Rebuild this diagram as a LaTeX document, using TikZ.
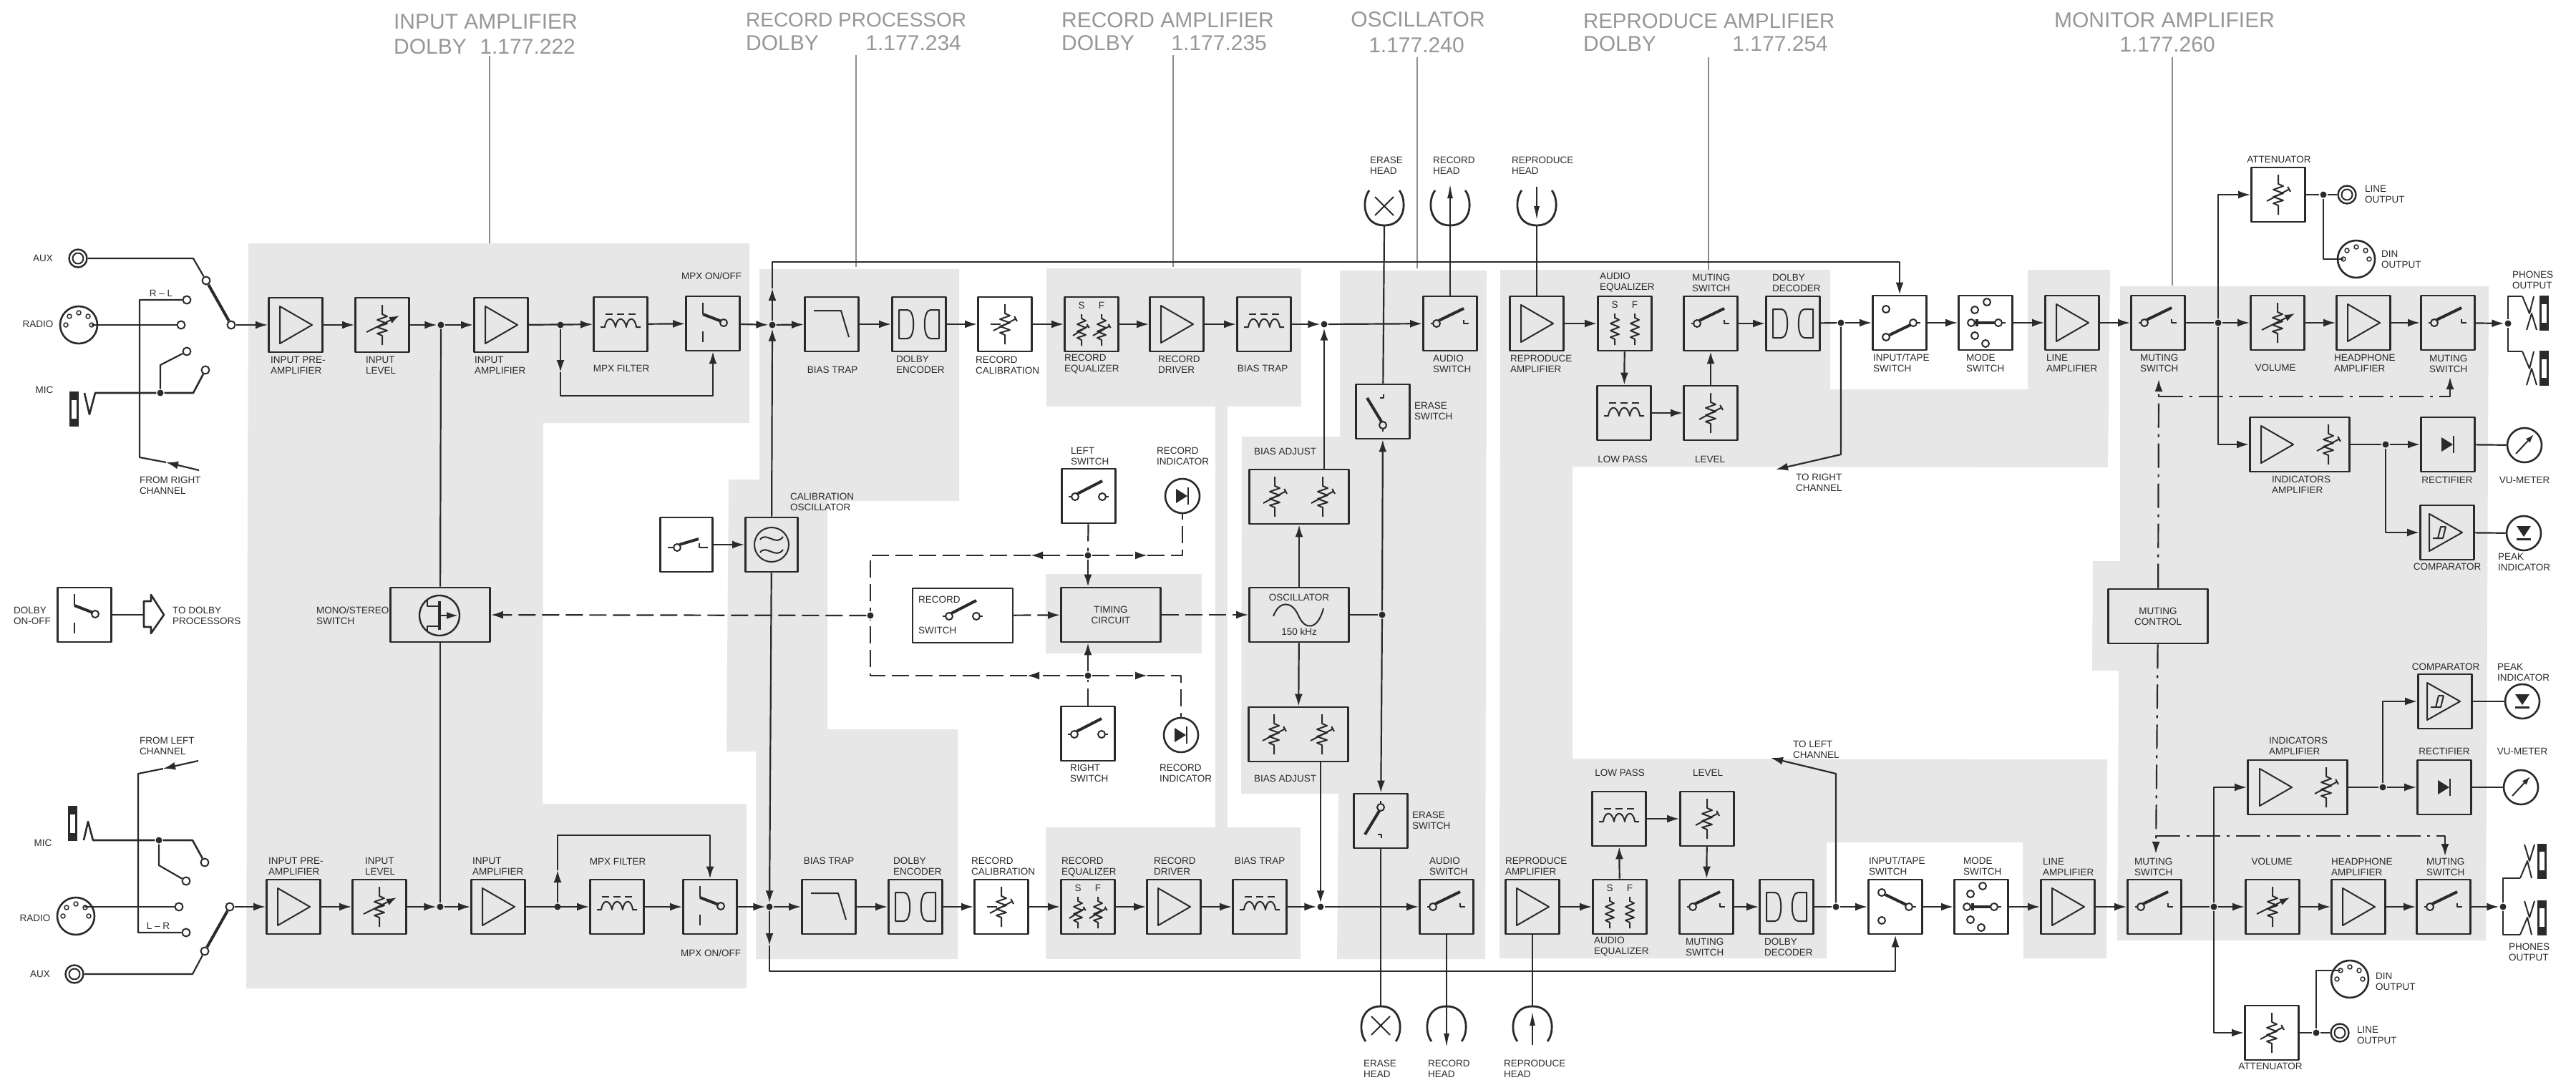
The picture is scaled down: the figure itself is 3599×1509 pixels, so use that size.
\documentclass[tikz,border=0pt]{standalone}
\usepackage{fontspec}
\setmainfont{Liberation Sans}
\usetikzlibrary{arrows.meta,positioning,calc}
\definecolor{ink}{HTML}{2A2A2A}
\definecolor{shade}{HTML}{E7E7E7}
\definecolor{leader}{HTML}{8C8C8C}
\newcommand{\lblfont}{\fontsize{13.5}{15}\selectfont}
\newcommand{\ttlfont}{\fontsize{30}{32}\selectfont}
\newcommand{\headarc}{\draw[line width=2.8pt] (-21,-22) .. controls (-32,-8) and (-30,27) .. (0,27) .. controls (30,27) and (32,-8) .. (21,-22);}

\begin{document}
\begin{tikzpicture}[
    x=1pt, y=-1pt, line width=2.2pt, draw=ink, line join=round,
    block/.style={rectangle, draw=ink, line width=2.8pt, minimum width=75pt, minimum height=76pt, inner sep=0pt},
    inblock/.style={font=\lblfont, align=center, inner sep=0pt, text=ink},
    dot/.style={circle, fill=ink, inner sep=0pt, minimum size=9pt},
    cont/.style={circle, draw=ink, fill=white, line width=2pt, inner sep=0pt, minimum size=11pt},
    round/.style={circle, draw=ink, line width=2.6pt, inner sep=0pt, minimum size=48pt},
    din/.style={circle, draw=ink, line width=2.6pt, inner sep=0pt, minimum size=52pt},
    phonojack/.style={circle, draw=ink, line width=2.4pt, inner sep=0pt, minimum size=25pt},
    lbl/.style={font=\lblfont, align=left, anchor=west, inner sep=0pt, text=ink},
    clbl/.style={font=\lblfont, align=center, inner sep=0pt, text=ink},
    ttl/.style={font=\ttlfont, inner sep=0pt, text=leader!90},
    tline/.style={draw=leader, line width=2pt},
    region/.style={fill=shade, draw=none},
    arrow/.style={-{Latex[length=17pt,width=11pt]}},
    dashwire/.style={dash pattern=on 24pt off 9pt},
    dotdash/.style={dash pattern=on 34pt off 9pt on 4pt off 9pt},
    sym/.style={line width=2pt},
    arm/.style={line width=4pt},
    ampsym/.pic={\draw[sym] (-22,-26) -- (23,0) -- (-22,26) -- cycle;},
    ressym/.pic={\draw[sym] (0,-28) -- (0,-15) -- (7,-12) -- (-7,-7) -- (7,-2) -- (-7,3) -- (7,8) -- (-7,12) -- (0,15) -- (0,28);},
    varres/.pic={\pic {ressym}; \draw[sym,-{Latex[length=14pt,width=10pt]}] (-22,10) -- (24,-13);},
    trimres/.pic={\pic {ressym}; \draw[sym,-{Bar[width=8pt]}] (-16,9) -- (16,-8);},
    calres/.pic={\pic {trimres}; \draw[sym] (-20,0) -- (-6,0);},
    eqres/.pic={\draw[sym] (0,-14) -- (0,-8) -- (6,-5) -- (-6,0) -- (6,5) -- (-6,10) -- (6,15) -- (-6,19) -- (0,22) -- (0,30);},
    eqsym/.pic={\pic at (-14,0) {eqres}; \pic at (14,0) {eqres};
        \node[clbl] (s) at (-14,-26) {S}; \node[clbl] (f) at (14,-26) {F};},
    eqvar/.pic={\pic {eqsym}; \draw[sym,-{Bar[width=6pt]}] (-26,16) -- (-4,2); \draw[sym,-{Bar[width=6pt]}] (2,16) -- (26,2);},
    filtsym/.pic={\draw[sym] (-28,4) -- (-22,4) .. controls (-20,-11) and (-10,-11) .. (-7,4) .. controls (-5,-11) and (5,-11) .. (8,4) .. controls (10,-11) and (20,-11) .. (22,4) -- (28,4);
        \draw[sym] (-21,-14) -- (-11,-14); \draw[sym] (-5,-14) -- (5,-14); \draw[sym] (11,-14) -- (21,-14);},
    swmpx/.pic={\draw[sym] (-14,-29) -- (-14,-13); \draw[arm] (-14,-13) -- (12,-3); \draw[sym] (15,-1) circle (5);
        \draw[sym] (-14,11) -- (-14,26);},
    swopen/.pic={\draw[sym] (-27,0) -- (-24,0); \draw[sym] (-19,0) circle (5); \draw[arm] (-16,-4) -- (19,-21);
        \draw[sym] (19,-5) -- (19,0) -- (26,0);},
    swtwo/.pic={\draw[sym] (-28,1) -- (-24,1); \draw[sym] (-19,1) circle (5); \draw[arm] (-16,-3) -- (19,-21);
        \draw[sym] (19,1) circle (5); \draw[sym] (24,1) -- (28,1);},
    eswsym/.pic={\draw[sym] (0,19) circle (5); \draw[sym] (0,24) -- (0,28); \draw[arm] (-2,14) -- (-22,-19);
        \draw[sym] (1,-24) -- (1,-19) -- (-4,-19);},
    itsym/.pic={\draw[sym] (-19,-19) circle (5); \draw[sym] (-19,20) circle (5); \draw[sym] (19,0) circle (5);
        \draw[sym] (24,0) -- (29,0); \draw[arm] (15,3) -- (-14,17);},
    modesym/.pic={\draw[sym] (2,-29) circle (5); \draw[sym] (-15,-18) circle (5); \draw[sym] (-20,0) circle (5);
        \draw[sym] (18,0) circle (5); \draw[sym] (-15,18) circle (5); \draw[sym] (0,29) circle (5);
        \draw[sym] (23,0) -- (28,0); \draw[arm] (-15,0) -- (13,0); \draw[arm] (-12,-5) -- (-12,5);},
    ddsym/.pic={\draw[sym] (-28,-20) -- (-16,-20) .. controls (-5,-20) and (-5,20) .. (-16,20) -- (-28,20) -- cycle;
        \draw[sym] (28,-20) -- (16,-20) .. controls (5,-20) and (5,20) .. (16,20) -- (28,20) -- cycle;},
    btrap/.pic={\draw[sym] (-25,-19) -- (13,-19) -- (24,18);},
    oscsym/.pic={\draw[sym] (-16,-7) .. controls (-8,-19) and (6,3) .. (16,-11);
        \draw[sym] (-16,11) .. controls (-8,-1) and (6,21) .. (16,7);},
    sinesym/.pic={\draw[sym] (-36,2) .. controls (-28,-20) and (-10,-20) .. (-1,1) .. controls (8,22) and (26,22) .. (34,-9);},
    dioder/.pic={\fill[ink] (-9,-10) -- (7,0) -- (-9,10) -- cycle; \draw[sym] (8,-12) -- (8,12);},
    dioded/.pic={\fill[ink] (-10,-10) -- (10,-10) -- (0,5) -- cycle; \draw[line width=3pt] (-10,8) -- (10,8);},
    metersym/.pic={\draw[sym,-{Latex[length=12pt,width=8pt]}] (-12,12) -- (13,-15);},
    compsym/.pic={\draw[sym] (-25,-26) -- (21,0) -- (-25,26) -- cycle;
        \draw[sym] (-20,8) -- (-13,8) -- (-9,-8) -- (-2,-8); \draw[sym] (-13,8) -- (-6,8) -- (-2,-8);},
    fetsym/.pic={\draw[sym] (-17,-23) -- (-17,-13) -- (0,-13); \draw[sym] (-17,23) -- (-17,15) -- (0,15);
        \draw[line width=3.6pt] (0,-20) -- (0,20); \draw[sym,-{Latex[length=16pt,width=10pt]}] (0,0) -- (26,0);},
    headx/.pic={\headarc \draw[sym] (-13,-13) -- (13,13); \draw[sym] (13,-13) -- (-13,13);},
    headup/.pic={\headarc \draw[sym,-{Latex[length=20pt,width=8pt]}] (0,27) -- (0,-31);},
    headdn/.pic={\headarc \draw[sym,-{Latex[length=20pt,width=8pt]}] (0,-27) -- (0,20);},
    pinring/.pic={\draw[sym] (0,0) circle (7.5);},
    pinsym/.pic={\draw[line width=1.5pt] (-18,0) circle (3); \draw[line width=1.5pt] (-13,-12) circle (3);
        \draw[line width=1.5pt] (0,-17) circle (3); \draw[line width=1.5pt] (13,-12) circle (3); \draw[line width=1.5pt] (18,0) circle (3);},
    micbar/.pic={\fill[ink] (0,-1) rectangle (13,48); \fill[white] (3,11) rectangle (10,37);},
    phonesym/.pic={\fill[ink] (0,-1) rectangle (13,48); \fill[white] (3,11) rectangle (10,37);
        \draw[sym] (-24,0) -- (-14,24) -- (-8,0); \draw[sym] (-18,47) -- (-11,24) -- (-4,47);}
]
    % shaded groups
    \fill[region] (347,340) -- (1047,340) -- (1047,591) -- (759,591) -- (758,1123) -- (1043,1123) -- (1043,1381) -- (344,1381) -- cycle;
    \fill[region] (1061,376) -- (1340,376) -- (1340,700) -- (1156,700) -- (1156,1019) -- (1338,1019) -- (1338,1340) -- (1056,1340) -- (1056,1050) -- (1015,1050) -- (1018,670) -- (1061,670) -- cycle;
    \fill[region] (1462,375) rectangle (1818,568);
    \fill[region] (1698,568) rectangle (1715,1157);
    \fill[region] (1461,1156) rectangle (1817,1340);
    \fill[region] (1461,802) rectangle (1679,913);
    \fill[region] (1872,378) -- (2077,378) -- (2075,1340) -- (1868,1340) -- (1870,1109) -- (1734,1109) -- (1735,610) -- (1872,610) -- cycle;
    \fill[region] (2096,377) -- (2557,377) -- (2557,544) -- (2833,544) -- (2833,377) -- (2948,377) -- (2945,653) -- (2197,652) -- (2197,1060) -- (2944,1061) -- (2943,1339) -- (2827,1339) -- (2826,1177) -- (2552,1177) -- (2552,1339) -- (2095,1339) -- cycle;
    \fill[region] (2962,400) -- (3477,400) -- (3473,1314) -- (2958,1314) -- (2960,937) -- (2923,937) -- (2924,784) -- (2962,784) -- cycle;

    % titles
    \useasboundingbox (0,0) rectangle (3599,1509);
    \node[ttl, anchor=west] (tia) at (549,30) {INPUT AMPLIFIER};
    \node[ttl, anchor=west] (tib) at (549,65) {DOLBY};
    \node[ttl, anchor=east] (tic) at (805,65) {1.177.222};
    \node[ttl, anchor=west, font=\fontsize{28}{32}\selectfont] (tra) at (1041,28) {RECORD PROCESSOR};
    \node[ttl, anchor=west] (trb) at (1041,60) {DOLBY};
    \node[ttl, anchor=east] (trc) at (1344,60) {1.177.234};
    \node[ttl, anchor=west] (taa) at (1482,28) {RECORD AMPLIFIER};
    \node[ttl, anchor=west] (tab) at (1482,60) {DOLBY};
    \node[ttl, anchor=east] (tac) at (1771,60) {1.177.235};
    \node[ttl] (toa) at (1981,27) {OSCILLATOR};
    \node[ttl] (tob) at (1979,63) {1.177.240};
    \node[ttl, anchor=west, font=\fontsize{29.4}{32}\selectfont] (tpa) at (2211,29) {REPRODUCE AMPLIFIER};
    \node[ttl, anchor=west] (tpb) at (2211,61) {DOLBY};
    \node[ttl, anchor=east] (tpc) at (2555,61) {1.177.254};
    \node[ttl] (tma) at (3024,28) {MONITOR AMPLIFIER};
    \node[ttl] (tmb) at (3028,62) {1.177.260};
    \draw[tline] (684,78) -- (684,340);
    \draw[tline] (1196,77) -- (1196,373);
    \draw[tline] (1639,77) -- (1639,373);
    \draw[tline] (1980,80) -- (1980,375);
    \draw[tline] (2387,80) -- (2387,377);
    \draw[tline] (3035,80) -- (3035,399);

    % upper channel
    \node[block] (ipreT) at (413,454) {};
    \node[block] (ilevT) at (534,454) {};
    \node[dot] (d1T) at (616,454) {};
    \node[block] (iampT) at (700,454) {};
    \node[dot] (d2T) at (783,454) {};
    \node[block] (mfilT) at (867,453) {};
    \node[block] (mswT) at (996,452) {};
    \node[dot] (jT) at (1079,454) {};
    \node[block] (btrT) at (1162,453) {};
    \node[block] (denT) at (1284,453) {};
    \node[block] (rcalT) at (1404,453) {};
    \node[block] (reqT) at (1525,453) {};
    \node[block] (rdrvT) at (1644,453) {};
    \node[block] (btsT) at (1766,453) {};
    \node[dot] (d5T) at (1850,453) {};
    \node[block] (aswT) at (2026,452) {};
    \node[block] (ramT) at (2147,452) {};
    \node[block] (aeqT) at (2270,452) {};
    \node[block] (musT) at (2390,452) {};
    \node[block] (ddeT) at (2505,452) {};
    \node[dot] (d7T) at (2572,451) {};
    \node[block] (itsT) at (2654,451) {};
    \node[block] (modT) at (2774,451) {};
    \node[block] (lamT) at (2895,451) {};
    \node[block] (mmaT) at (3015,451) {};
    \node[dot] (d9T) at (3099,451) {};
    \node[block] (volT) at (3182,451) {};
    \node[block] (hamT) at (3302,451) {};
    \node[block] (mmbT) at (3420,451) {};
    \node[dot] (dpT) at (3504,452) {};
    \node[block] (lopT) at (2269,577) {};
    \node[block] (lvlT) at (2390,577) {};
    \node[block] (attT) at (3183,272) {};
    \node[dot] (dlT) at (3246,272) {};
    \node[phonojack] (lineT) at (3279,272) {};
    \node[din] (dinT) at (3292,362) {};
    \node[block, minimum width=139pt] (indT) at (3213,621) {};
    \node[dot] (diT) at (3333,621) {};
    \node[block] (recT) at (3420,621) {};
    \node[round] (vuT) at (3527,622) {};
    \node[block] (cmpT) at (3419,744) {};
    \node[round] (pkT) at (3526,745) {};
    \node[block] (eswT) at (1932,575) {};

    % lower channel
    \node[block] (ipreB) at (410,1267) {};
    \node[block] (ilevB) at (530,1267) {};
    \node[dot] (d1B) at (615,1267) {};
    \node[block] (iampB) at (696,1267) {};
    \node[dot] (d2B) at (779,1267) {};
    \node[block] (mfilB) at (862,1267) {};
    \node[block] (mswB) at (992,1267) {};
    \node[dot] (jB) at (1075,1267) {};
    \node[block] (btrB) at (1158,1267) {};
    \node[block] (denB) at (1279,1267) {};
    \node[block] (rcalB) at (1399,1267) {};
    \node[block] (reqB) at (1520,1267) {};
    \node[block] (rdrvB) at (1640,1267) {};
    \node[block] (btsB) at (1760,1267) {};
    \node[dot] (d5B) at (1845,1267) {};
    \node[block] (aswB) at (2021,1267) {};
    \node[block] (ramB) at (2141,1267) {};
    \node[block] (aeqB) at (2263,1267) {};
    \node[block] (musB) at (2384,1267) {};
    \node[block] (ddeB) at (2496,1267) {};
    \node[dot] (d7B) at (2565,1267) {};
    \node[block] (itsB) at (2648,1267) {};
    \node[block] (modB) at (2768,1267) {};
    \node[block] (lamB) at (2889,1267) {};
    \node[block] (mmaB) at (3010,1267) {};
    \node[dot] (d9B) at (3093,1267) {};
    \node[block] (volB) at (3175,1267) {};
    \node[block] (hamB) at (3295,1267) {};
    \node[block] (mmbB) at (3414,1267) {};
    \node[dot] (dpB) at (3497,1267) {};
    \node[block] (lopB) at (2262,1144) {};
    \node[block] (lvlB) at (2385,1144) {};
    \node[block] (attB) at (3174,1443) {};
    \node[dot] (dlB) at (3236,1443) {};
    \node[phonojack] (lineB) at (3269,1443) {};
    \node[din] (dinB) at (3283,1368) {};
    \node[block, minimum width=139pt] (indB) at (3210,1100) {};
    \node[dot] (diB) at (3329,1100) {};
    \node[block] (recB) at (3415,1100) {};
    \node[round] (vuB) at (3522,1100) {};
    \node[block] (cmpB) at (3416,980) {};
    \node[round] (pkB) at (3524,980) {};
    \node[block] (eswB) at (1929,1147) {};

    % middle section
    \node[block, minimum width=139pt] (mono) at (615,859) {};
    \node[circle, draw=ink, line width=2.4pt, minimum size=56pt, inner sep=0pt] (fet) at (614,860) {};
    \node[block] (dolby) at (118,859) {};
    \node[block, minimum width=73pt] (calsw) at (959,761) {};
    \node[block, minimum width=73pt] (cal) at (1078,761) {};
    \node[circle, draw=ink, line width=2pt, minimum size=48pt, inner sep=0pt] (calc) at (1078,761) {};
    \node[block] (lswT) at (1521,693) {};
    \node[round] (riT) at (1652,693) {};
    \node[dot] (dmT) at (1520,776) {};
    \node[dot] (dsw) at (1216,860) {};
    \node[block, minimum width=140pt] (recsw) at (1345,860) {};
    \node[block, minimum width=139pt] (timing) at (1552,859) {};
    \node[inblock] (ltim) at (timing) {TIMING\\CIRCUIT};
    \node[block, minimum width=139pt] (oscil) at (1815,859) {};
    \node[dot] (dosc) at (1931,859) {};
    \node[block, minimum width=139pt] (badT) at (1815,694) {};
    \node[block, minimum width=139pt] (badB) at (1814,1026) {};
    \node[dot] (dmB) at (1520,944) {};
    \node[block] (lswB) at (1520,1025) {};
    \node[round] (riB) at (1650,1027) {};
    \node[block, minimum width=139pt] (mctl) at (3015,861) {};
    \node[inblock] (lmct) at (mctl) {MUTING\\CONTROL};

    % symbols in the blocks
    \pic at (ipreT) {ampsym};
    \pic at (ilevT) {varres};
    \pic at (iampT) {ampsym};
    \pic at (mfilT) {filtsym};
    \pic at (mswT) {swmpx};
    \pic at (btrT) {btrap};
    \pic at (denT) {ddsym};
    \pic at (rcalT) {calres};
    \pic at (reqT) {eqvar};
    \pic at (rdrvT) {ampsym};
    \pic at (btsT) {filtsym};
    \pic at (aswT) {swopen};
    \pic at (ramT) {ampsym};
    \pic at (aeqT) {eqsym};
    \pic at (musT) {swopen};
    \pic at (ddeT) {ddsym};
    \pic at (itsT) {itsym};
    \pic at (modT) {modesym};
    \pic at (lamT) {ampsym};
    \pic at (mmaT) {swopen};
    \pic at (volT) {varres};
    \pic at (hamT) {ampsym};
    \pic at (mmbT) {swopen};
    \pic at (lopT) {filtsym};
    \pic at (lvlT) {trimres};
    \pic at (attT) {trimres};
    \pic at (lineT) {pinring};
    \pic at (dinT) {pinsym};
    \pic at (3181,621) {ampsym};
    \pic at (3253,621) {trimres};
    \pic at (recT) {dioder};
    \pic at (vuT) {metersym};
    \pic at (cmpT) {compsym};
    \pic at (pkT) {dioded};
    \pic at (eswT) {eswsym};
    \pic at (ipreB) {ampsym};
    \pic at (ilevB) {varres};
    \pic at (iampB) {ampsym};
    \pic at (mfilB) {filtsym};
    \pic at (mswB) {swmpx};
    \pic at (btrB) {btrap};
    \pic at (denB) {ddsym};
    \pic at (rcalB) {calres};
    \pic at (reqB) {eqvar};
    \pic at (rdrvB) {ampsym};
    \pic at (btsB) {filtsym};
    \pic at (aswB) {swopen};
    \pic at (ramB) {ampsym};
    \pic at (aeqB) {eqsym};
    \pic at (musB) {swopen};
    \pic at (ddeB) {ddsym};
    \pic[yscale=-1] at (itsB) {itsym};
    \pic at (modB) {modesym};
    \pic at (lamB) {ampsym};
    \pic at (mmaB) {swopen};
    \pic at (volB) {varres};
    \pic at (hamB) {ampsym};
    \pic at (mmbB) {swopen};
    \pic at (lopB) {filtsym};
    \pic at (lvlB) {trimres};
    \pic at (attB) {trimres};
    \pic at (lineB) {pinring};
    \pic at (dinB) {pinsym};
    \pic at (3179,1100) {ampsym};
    \pic at (3250,1100) {trimres};
    \pic at (recB) {dioder};
    \pic at (vuB) {metersym};
    \pic at (cmpB) {compsym};
    \pic at (pkB) {dioded};
    \pic[yscale=-1] at (eswB) {eswsym};
    \pic at (fet) {fetsym};
    \pic at (dolby) {swmpx};
    \pic at (calc) {oscsym};
    \pic at (lswT) {swtwo};
    \pic at (riT) {dioder};
    \pic at (recsw) {swtwo};
    \pic at (oscil) {sinesym};
    \pic at (-34+1815,694) {trimres};
    \pic at (33+1815,694) {trimres};
    \pic at (-34+1814,1026) {trimres};
    \pic at (33+1814,1026) {trimres};
    \pic at (lswB) {swtwo};
    \pic at (riB) {dioder};
    \draw[sym] (933,765) -- (941,765);
    \draw[sym] (946,765) circle (5);
    \draw[arm] (949,761) -- (976,753);
    \draw[sym] (977,759) -- (977,765) -- (989,765);

    % input selector, upper
    \node[phonojack] (auxT) at (109,361) {};
    \pic at (auxT) {pinring};
    \node[din] (radT) at (110,454) {};
    \pic at (radT) {pinsym};
    \pic at (97,548) {micbar};
    \node[cont] (caT) at (288,392) {};
    \node[cont] (crlT) at (261,419) {};
    \node[cont] (crT) at (253,454) {};
    \node[cont] (cm1T) at (261,491) {};
    \node[cont] (cm2T) at (287,517) {};
    \node[cont] (pvT) at (323,454) {};
    \node[dot] (dcT) at (224,549) {};
    \coordinate (akT) at (270,361);
    \coordinate (rpT) at (128,454);
    \coordinate (mtT) at (125,579);
    \coordinate (maT) at (133,549);
    \coordinate (mlT) at (118,549);
    \coordinate (mkT) at (270,549);
    \coordinate (mjT) at (224,510);
    \coordinate (frsT) at (278,657);
    \coordinate (frmT) at (232,646);
    \coordinate (frcT) at (195,639);
    \draw (auxT) -- (akT) -- (caT);
    \draw[arm] (caT) -- (pvT);
    \draw (rpT) -- (crT);
    \draw[line width=2.6pt] (mlT) -- (mtT) -- (maT) -- (dcT) -- (mkT) -- (cm2T);
    \draw (dcT) -- (mjT) -- (cm1T);
    \draw[arrow] (frsT) -- (frmT);
    \draw (frmT) -- (frcT) |- (crlT);
    \draw[arrow] (pvT) -- (ipreT);

    % input selector, lower
    \node[phonojack] (auxB) at (104,1361) {};
    \pic at (auxB) {pinring};
    \node[din] (radB) at (106,1280) {};
    \pic at (radB) {pinsym};
    \pic at (95,1127) {micbar};
    \node[cont] (caB) at (286,1329) {};
    \node[cont] (crlB) at (260,1303) {};
    \node[cont] (crB) at (250,1267) {};
    \node[cont] (cm1B) at (260,1231) {};
    \node[cont] (cm2B) at (286,1205) {};
    \node[cont] (pvB) at (321,1267) {};
    \node[dot] (dcB) at (222,1174) {};
    \coordinate (akB) at (269,1361);
    \coordinate (rpB) at (118,1267);
    \coordinate (mtB) at (123,1148);
    \coordinate (maB) at (130,1174);
    \coordinate (mlB) at (117,1174);
    \coordinate (mkB) at (269,1174);
    \coordinate (mjB) at (222,1209);
    \coordinate (frsB) at (277,1063);
    \coordinate (frmB) at (228,1074);
    \coordinate (frcB) at (193,1081);
    \draw (auxB) -- (akB) -- (caB);
    \draw[arm] (caB) -- (pvB);
    \draw (rpB) -- (crB);
    \draw[line width=2.6pt] (mlB) -- (mtB) -- (maB) -- (dcB) -- (mkB) -- (cm2B);
    \draw (dcB) -- (mjB) -- (cm1B);
    \draw[arrow] (frsB) -- (frmB);
    \draw (frmB) -- (frcB) |- (crlB);
    \draw[arrow] (pvB) -- (ipreB);

    % upper signal path
    \draw[arrow] (ipreT) -- (ilevT);
    \draw[arrow] (ilevT) -- (d1T);
    \draw[arrow] (d1T) -- (iampT);
    \draw[arrow] (iampT) -- (mfilT);
    \draw[arrow] (mfilT) -- (mswT);
    \draw[arrow] (mswT) -- (jT);
    \draw[arrow] (jT) -- (btrT);
    \draw[arrow] (btrT) -- (denT);
    \draw[arrow] (denT) -- (rcalT);
    \draw[arrow] (rcalT) -- (reqT);
    \draw[arrow] (reqT) -- (rdrvT);
    \draw[arrow] (rdrvT) -- (btsT);
    \draw[arrow] (btsT) -- (d5T);
    \draw[arrow] (d5T) -- (aswT);
    \draw[arrow] (ramT) -- (aeqT);
    \draw[arrow] (aeqT) -- (lopT);
    \draw[arrow] (lopT) -- (lvlT);
    \draw[arrow] (lvlT) -- (musT);
    \draw[arrow] (musT) -- (ddeT);
    \draw (ddeT) -- (d7T);
    \draw[arrow] (d7T) -- (itsT);
    \draw[arrow] (itsT) -- (modT);
    \draw[arrow] (modT) -- (lamT);
    \draw[arrow] (lamT) -- (mmaT);
    \draw (mmaT) -- (d9T);
    \draw[arrow] (d9T) -- (volT);
    \draw[arrow] (volT) -- (hamT);
    \draw[arrow] (hamT) -- (mmbT);
    \draw[arrow] (mmbT) -- (dpT);

    % lower signal path
    \draw[arrow] (ipreB) -- (ilevB);
    \draw[arrow] (ilevB) -- (d1B);
    \draw[arrow] (d1B) -- (iampB);
    \draw[arrow] (iampB) -- (mfilB);
    \draw[arrow] (mfilB) -- (mswB);
    \draw[arrow] (mswB) -- (jB);
    \draw[arrow] (jB) -- (btrB);
    \draw[arrow] (btrB) -- (denB);
    \draw[arrow] (denB) -- (rcalB);
    \draw[arrow] (rcalB) -- (reqB);
    \draw[arrow] (reqB) -- (rdrvB);
    \draw[arrow] (rdrvB) -- (btsB);
    \draw[arrow] (btsB) -- (d5B);
    \draw[arrow] (d5B) -- (aswB);
    \draw[arrow] (ramB) -- (aeqB);
    \draw[arrow] (aeqB) -- (lopB);
    \draw[arrow] (lopB) -- (lvlB);
    \draw[arrow] (lvlB) -- (musB);
    \draw[arrow] (musB) -- (ddeB);
    \draw (ddeB) -- (d7B);
    \draw[arrow] (d7B) -- (itsB);
    \draw[arrow] (itsB) -- (modB);
    \draw[arrow] (modB) -- (lamB);
    \draw[arrow] (lamB) -- (mmaB);
    \draw (mmaB) -- (d9B);
    \draw[arrow] (d9B) -- (volB);
    \draw[arrow] (volB) -- (hamB);
    \draw[arrow] (hamB) -- (mmbB);
    \draw[arrow] (mmbB) -- (dpB);

    % mpx bypass
    \coordinate (bxT) at (783,553);
    \coordinate (btT) at (783,520);
    \draw[arrow] (d2T) -- (btT);
    \draw[arrow] (btT) -- (bxT) -| (mswT);
    \coordinate (bxB) at (779,1167);
    \coordinate (btB) at (779,1216);
    \draw[arrow] (d2B) -- (btB);
    \draw[arrow] (btB) -- (bxB) -| (mswB);

    % mono and rails
    \draw (d1T) -- (mono);
    \draw (mono) -- (d1B);
    \coordinate (rtT) at (1079,403);
    \coordinate (reT) at (2654,366);
    \coordinate (rtB) at (1075,1321);
    \coordinate (reB) at (2648,1357);
    \draw[arrow] (jT) -- (rtT);
    \draw[arrow] (rtT) |- (reT) -- (itsT);
    \draw[arrow] (jB) -- (rtB);
    \draw[arrow] (rtB) |- (reB) -- (itsB);
    \draw[arrow] (cal) -- (jT);
    \draw[arrow] (cal) -- (jB);
    \draw[arrow] (calsw) -- (cal);

    % heads
    \pic at (1934,288) {headx};
    \pic at (2026,288) {headup};
    \pic at (2147,288) {headdn};
    \coordinate (ehT) at (1934,315);
    \coordinate (rhT) at (2026,315);
    \coordinate (phT) at (2147,315);
    \draw (ehT) -- (eswT);
    \draw (rhT) -- (aswT);
    \draw (phT) -- (ramT);
    \pic[yscale=-1] at (1929,1433) {headx};
    \pic[yscale=-1] at (2021,1433) {headup};
    \pic[yscale=-1] at (2141,1433) {headdn};
    \coordinate (ehB) at (1929,1406);
    \coordinate (rhB) at (2021,1406);
    \coordinate (phB) at (2141,1406);
    \draw (eswB) -- (ehB);
    \draw (aswB) -- (rhB);
    \draw (ramB) -- (phB);

    % oscillator and bias
    \node[clbl] (osct) at (1815,835) {OSCILLATOR};
    \node[clbl] (oscf) at (1815,883) {150 kHz};
    \draw[arrow] (oscil) -- (badT);
    \draw[arrow] (oscil) -- (badB);
    \draw (oscil) -- (dosc);
    \draw[arrow] (dosc) -- (eswT);
    \draw[arrow] (dosc) -- (eswB);
    \draw[arrow] (d5T |- badT.north) -- (d5T);
    \draw[arrow] (d5B |- badB.south) -- (d5B);

    % record control, dashed
    \coordinate (laT) at (1440,776);
    \coordinate (raT) at (1603,776);
    \coordinate (laB) at (1435,944);
    \coordinate (raB) at (1603,944);
    \draw[dashwire] (lswT) -- (dmT);
    \draw[dashwire,arrow] (dmT) -- (dmT |- timing.north);
    \draw[dashwire,arrow] (dmT) -- (laT);
    \draw[dashwire] (laT) -| (dsw);
    \draw[dashwire,arrow] (dmT) -- (raT);
    \draw[dashwire] (raT) -| (riT);
    \draw[dashwire] (lswB) -- (dmB);
    \draw[dashwire,arrow] (dmB) -- (dmB |- timing.south);
    \draw[dashwire,arrow] (dmB) -- (laB);
    \draw[dashwire] (laB) -| (dsw);
    \draw[dashwire,arrow] (dmB) -- (raB);
    \draw[dashwire] (raB) -| (riB);
    \draw[dashwire,arrow] (dsw) -- (mono);
    \draw[dashwire,arrow] (recsw) -- (timing);
    \draw[dashwire,arrow] (timing) -- (oscil);

    % muting control, dot-dashed
    \coordinate (mtipT) at (3016,530);
    \coordinate (mjnT) at (3016,554);
    \coordinate (mendT) at (3423,527);
    \coordinate (mtipB) at (3012,1193);
    \coordinate (mjnB) at (3012,1168);
    \coordinate (mendB) at (3416,1196);
    \draw[dotdash,arrow] (mctl) -- (mtipT);
    \draw[dotdash,arrow] (mjnT) -| (mendT);
    \draw[dotdash,arrow] (mctl) -- (mtipB);
    \draw[dotdash,arrow] (mjnB) -| (mendB);

    % to other channel
    \coordinate (trcA) at (2572,635);
    \coordinate (trcB) at (2481,656);
    \coordinate (tlcA) at (2565,1081);
    \coordinate (tlcB) at (2474,1059);
    \draw[arrow] (d7T) -- (trcA) -- (trcB);
    \draw[arrow] (d7B) -- (tlcA) -- (tlcB);

    % monitor outputs
    \draw[arrow] (d9T) |- (attT);
    \draw[arrow] (d9T) |- (indT);
    \draw (attT) -- (dlT);
    \draw (dlT) -- (lineT);
    \coordinate (pinT) at (3274,362);
    \draw (dlT) |- (pinT);
    \draw (indT) -- (diT);
    \draw[arrow] (diT) -- (recT);
    \draw[arrow] (diT) |- (cmpT);
    \draw (recT) -- (vuT);
    \draw (cmpT) -- (pkT);
    \draw[arrow] (d9B) |- (attB);
    \draw[arrow] (d9B) |- (indB);
    \draw (attB) -- (dlB);
    \draw (dlB) -- (lineB);
    \coordinate (pinB) at (3270,1356);
    \draw (dlB) |- (pinB);
    \draw (indB) -- (diB);
    \draw[arrow] (diB) -- (recB);
    \draw[arrow] (diB) |- (cmpB);
    \draw (recB) -- (vuB);
    \draw (cmpB) -- (pkB);

    % phones
    \pic at (3548,414) {phonesym};
    \pic at (3548,491) {phonesym};
    \coordinate (ptT) at (3524,414);
    \coordinate (pbT) at (3524,491);
    \draw (dpT) |- (ptT);
    \draw (dpT) |- (pbT);
    \pic[yscale=-1] at (3545,1227) {phonesym};
    \pic[yscale=-1] at (3545,1306) {phonesym};
    \coordinate (ptB) at (3521,1227);
    \coordinate (pbB) at (3521,1306);
    \draw (dpB) |- (ptB);
    \draw (dpB) |- (pbB);

    % dolby switch
    \coordinate (hol) at (201,859);
    \draw (dolby) -- (hol);
    \draw[line width=2.6pt, fill=white] (201,840) -- (211,840) -- (211,831) -- (229,859) -- (211,885) -- (211,876) -- (201,876) -- cycle;

    % labels, left side
    \node[clbl] (lauxT) at (60,361) {AUX};
    \node[clbl] (lradT) at (53,453) {RADIO};
    \node[clbl] (lmicT) at (62,545) {MIC};
    \node[clbl] (lrlT) at (225,410) {R -- L};
    \node[lbl] (lfrT) at (194,678) {FROM RIGHT\\CHANNEL};
    \node[clbl] (lauxB) at (56,1361) {AUX};
    \node[clbl] (lradB) at (49,1283) {RADIO};
    \node[clbl] (lmicB) at (60,1178) {MIC};
    \node[clbl] (llrB) at (221,1294) {L -- R};
    \node[lbl] (lfrB) at (194,1042) {FROM LEFT\\CHANNEL};
    \node[lbl] (ldol) at (18,860) {DOLBY\\ON-OFF};
    \node[lbl] (ltod) at (240,860) {TO DOLBY\\PROCESSORS};
    \node[lbl] (lmono) at (441,860) {MONO/STEREO\\SWITCH};

    % labels, upper channel
    \node[lbl] (lipreT) at (377,510) {INPUT PRE-\\AMPLIFIER};
    \node[lbl] (lilevT) at (510,510) {INPUT\\LEVEL};
    \node[lbl] (liampT) at (662,510) {INPUT\\AMPLIFIER};
    \node[clbl] (lmfilT) at (868,515) {MPX FILTER};
    \node[clbl] (lmswT) at (994,386) {MPX ON/OFF};
    \node[clbl] (lbtrT) at (1163,517) {BIAS TRAP};
    \node[lbl] (ldenT) at (1251,509) {DOLBY\\ENCODER};
    \node[lbl] (lrcalT) at (1362,510) {RECORD\\CALIBRATION};
    \node[lbl] (lreqT) at (1486,509) {RECORD\\EQUALIZER};
    \node[lbl] (lrdrvT) at (1617,509) {RECORD\\DRIVER};
    \node[clbl] (lbtsT) at (1764,515) {BIAS TRAP};
    \node[lbl] (laswT) at (2001,508) {AUDIO\\SWITCH};
    \node[lbl] (lramT) at (2109,508) {REPRODUCE\\AMPLIFIER};
    \node[lbl] (laeqT) at (2234,395) {AUDIO\\EQUALIZER};
    \node[lbl] (lmusT) at (2363,395) {MUTING\\SWITCH};
    \node[lbl] (lddeT) at (2475,395) {DOLBY\\DECODER};
    \node[lbl] (litsT) at (2616,507) {INPUT/TAPE\\SWITCH};
    \node[lbl] (lmodT) at (2746,507) {MODE\\SWITCH};
    \node[lbl] (llamT) at (2858,507) {LINE\\AMPLIFIER};
    \node[lbl] (lmmaT) at (2989,507) {MUTING\\SWITCH};
    \node[clbl] (lvolT) at (3179,514) {VOLUME};
    \node[lbl] (lhamT) at (3260,507) {HEADPHONE\\AMPLIFIER};
    \node[lbl] (lmmbT) at (3393,508) {MUTING\\SWITCH};
    \node[clbl] (llopT) at (2267,642) {LOW PASS};
    \node[clbl] (llvlT) at (2389,642) {LEVEL};
    \node[lbl] (ltrc) at (2508,674) {TO RIGHT\\CHANNEL};
    \node[lbl] (leswT) at (1975,574) {ERASE\\SWITCH};
    \node[lbl] (lehT) at (1913,231) {ERASE\\HEAD};
    \node[lbl] (lrhT) at (2001,231) {RECORD\\HEAD};
    \node[lbl] (lphT) at (2111,231) {REPRODUCE\\HEAD};
    \node[clbl] (lattT) at (3184,223) {ATTENUATOR};
    \node[lbl] (llineT) at (3303,271) {LINE\\OUTPUT};
    \node[lbl] (ldinT) at (3326,362) {DIN\\OUTPUT};
    \node[lbl] (lphoT) at (3509,391) {PHONES\\OUTPUT};
    \node[lbl] (lindT) at (3173,677) {INDICATORS\\AMPLIFIER};
    \node[clbl] (lrecT) at (3419,671) {RECTIFIER};
    \node[clbl] (lvuT) at (3527,671) {VU-METER};
    \node[clbl] (lcmpT) at (3419,792) {COMPARATOR};
    \node[lbl] (lpkT) at (3489,785) {PEAK\\INDICATOR};

    % labels, lower channel
    \node[lbl] (lipreB) at (374,1210) {INPUT PRE-\\AMPLIFIER};
    \node[lbl] (lilevB) at (509,1210) {INPUT\\LEVEL};
    \node[lbl] (liampB) at (659,1210) {INPUT\\AMPLIFIER};
    \node[clbl] (lmfilB) at (863,1204) {MPX FILTER};
    \node[clbl] (lmswB) at (993,1332) {MPX ON/OFF};
    \node[clbl] (lbtrB) at (1158,1203) {BIAS TRAP};
    \node[lbl] (ldenB) at (1247,1210) {DOLBY\\ENCODER};
    \node[lbl] (lrcalB) at (1356,1210) {RECORD\\CALIBRATION};
    \node[lbl] (lreqB) at (1482,1212) {RECORD\\EQUALIZER};
    \node[lbl] (lrdrvB) at (1611,1210) {RECORD\\DRIVER};
    \node[clbl] (lbtsB) at (1760,1203) {BIAS TRAP};
    \node[lbl] (laswB) at (1996,1210) {AUDIO\\SWITCH};
    \node[lbl] (lramB) at (2102,1210) {REPRODUCE\\AMPLIFIER};
    \node[lbl] (laeqB) at (2226,1323) {AUDIO\\EQUALIZER};
    \node[lbl] (lmusB) at (2354,1323) {MUTING\\SWITCH};
    \node[lbl] (lddeB) at (2464,1323) {DOLBY\\DECODER};
    \node[lbl] (litsB) at (2610,1210) {INPUT/TAPE\\SWITCH};
    \node[lbl] (lmodB) at (2742,1210) {MODE\\SWITCH};
    \node[lbl] (llamB) at (2853,1211) {LINE\\AMPLIFIER};
    \node[lbl] (lmmaB) at (2981,1211) {MUTING\\SWITCH};
    \node[clbl] (lvolB) at (3174,1204) {VOLUME};
    \node[lbl] (lhamB) at (3256,1211) {HEADPHONE\\AMPLIFIER};
    \node[lbl] (lmmbB) at (3389,1211) {MUTING\\SWITCH};
    \node[clbl] (llopB) at (2263,1080) {LOW PASS};
    \node[clbl] (llvlB) at (2386,1080) {LEVEL};
    \node[lbl] (ltlc) at (2504,1047) {TO LEFT\\CHANNEL};
    \node[lbl] (leswB) at (1972,1146) {ERASE\\SWITCH};
    \node[lbl] (lehB) at (1904,1493) {ERASE\\HEAD};
    \node[lbl] (lrhB) at (1994,1493) {RECORD\\HEAD};
    \node[lbl] (lphB) at (2100,1493) {REPRODUCE\\HEAD};
    \node[clbl] (lattB) at (3172,1490) {ATTENUATOR};
    \node[lbl] (llineB) at (3292,1446) {LINE\\OUTPUT};
    \node[lbl] (ldinB) at (3318,1371) {DIN\\OUTPUT};
    \node[lbl] (lphoB) at (3504,1330) {PHONES\\OUTPUT};
    \node[lbl] (lindB) at (3169,1042) {INDICATORS\\AMPLIFIER};
    \node[clbl] (lrecB) at (3415,1050) {RECTIFIER};
    \node[clbl] (lvuB) at (3524,1050) {VU-METER};
    \node[clbl] (lcmpB) at (3417,932) {COMPARATOR};
    \node[lbl] (lpkB) at (3488,939) {PEAK\\INDICATOR};

    % labels, middle
    \node[lbl] (lcal) at (1103,701) {CALIBRATION\\OSCILLATOR};
    \node[lbl] (llsw) at (1495,637) {LEFT\\SWITCH};
    \node[lbl] (lriT) at (1615,637) {RECORD\\INDICATOR};
    \node[lbl] (lrsw) at (1494,1080) {RIGHT\\SWITCH};
    \node[lbl] (lriB) at (1619,1080) {RECORD\\INDICATOR};
    \node[lbl] (lbadT) at (1751,631) {BIAS ADJUST};
    \node[lbl] (lbadB) at (1751,1088) {BIAS ADJUST};
    \node[lbl] (lrs1) at (1282,838) {RECORD};
    \node[lbl] (lrs2) at (1282,881) {SWITCH};
\end{tikzpicture}
\end{document}
